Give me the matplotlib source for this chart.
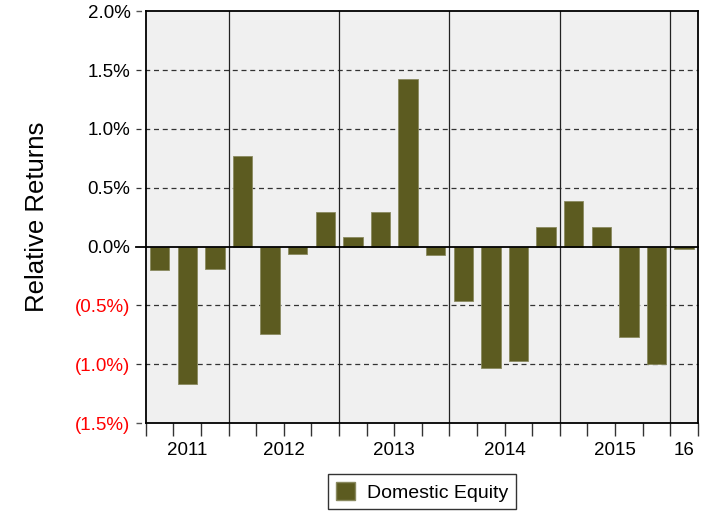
import numpy as np
import matplotlib
matplotlib.use('Agg')
import matplotlib.pyplot as plt
from matplotlib.patches import Patch

plt.rcParams['font.family'] = ['Liberation Sans', 'DejaVu Sans']

# quarterly relative returns, 2011 Q2 .. 2016 Q1 (in %)
quarters = ['2011Q2', '2011Q3', '2011Q4',
            '2012Q1', '2012Q2', '2012Q3', '2012Q4',
            '2013Q1', '2013Q2', '2013Q3', '2013Q4',
            '2014Q1', '2014Q2', '2014Q3', '2014Q4',
            '2015Q1', '2015Q2', '2015Q3', '2015Q4',
            '2016Q1']
returns = [-0.20, -1.17, -0.19,
           0.77, -0.74, -0.06, 0.29,
           0.085, 0.295, 1.42, -0.07,
           -0.46, -1.03, -0.97, 0.165,
           0.39, 0.165, -0.77, -1.00,
           -0.02]
year_labels = ['2011', '2012', '2013', '2014', '2015', '16']
yticks = [-1.5, -1.0, -0.5, 0.0, 0.5, 1.0, 1.5, 2.0]
series_name = 'Domestic Equity'

bar_color = '#5c5b20'

fig = plt.figure(figsize=(7.15, 5.11), dpi=100)
ax = fig.add_axes([0.204, 0.172, 0.772, 0.806])
ax.set_facecolor('#f0f0f0')

x = np.arange(len(quarters))
ax.bar(x, returns, width=0.7, color=bar_color, edgecolor='#8a8a60', linewidth=0.6, zorder=3)

ax.set_xlim(-0.5, len(quarters) - 0.5)
ax.set_ylim(-1.5, 2.0)

# horizontal gridlines, extended a bit left of the axis
ytr = ax.get_yaxis_transform()
for v in yticks:
    if v == 0.0:
        ax.plot([-0.018, 1], [v, v], color='black', lw=1.3, transform=ytr, clip_on=False, zorder=4)
    elif v in (2.0, -1.5):
        ax.plot([-0.018, 0], [v, v], color='#555555', lw=1, ls=(0, (4, 3)), transform=ytr, clip_on=False)
    else:
        ax.plot([-0.018, 1], [v, v], color='#333333', lw=0.9, ls=(0, (4, 3)), transform=ytr, clip_on=False, zorder=2)

# year separators
year_of = [q[:4] for q in quarters]
seps = [i - 0.5 for i in range(1, len(quarters)) if year_of[i] != year_of[i - 1]]
for s in seps:
    ax.axvline(s, color='#222222', lw=0.9, zorder=2)

# quarter ticks along the bottom
ax.set_xticks(np.arange(-0.5, len(quarters), 1.0))
ax.set_xticklabels([])
ax.tick_params(axis='x', direction='out', length=9, width=1, color='#333333')

# year labels centred in each year block
edges = [-0.5] + seps + [len(quarters) - 0.5]
for lab, a, b in zip(year_labels, edges[:-1], edges[1:]):
    ax.text((a + b) / 2, -0.045, lab, transform=ax.get_xaxis_transform(),
            ha='center', va='top', fontsize=13.5)

ax.set_yticks(yticks)
labels = []
for v in yticks:
    if v < 0:
        labels.append('(%.1f%%)' % abs(v))
    else:
        labels.append('%.1f%%' % v)
ax.set_yticklabels(labels, fontsize=13.5)
for t, v in zip(ax.get_yticklabels(), yticks):
    t.set_color('red' if v < 0 else 'black')
ax.tick_params(axis='y', length=0, pad=11)

for sp in ax.spines.values():
    sp.set_linewidth(1.3)
    sp.set_color('black')

ax.set_ylabel('Relative Returns', fontsize=18.5, labelpad=19)

leg = fig.legend(handles=[Patch(facecolor=bar_color, edgecolor='#8a8a60')], labels=[series_name],
                 loc='lower center', bbox_to_anchor=(0.59, -0.016), fontsize=14, frameon=True,
                 fancybox=False, edgecolor='black', handlelength=1.0, handleheight=1.1,
                 borderpad=0.4, handletextpad=0.6, borderaxespad=0.5)
leg.get_frame().set_linewidth(1)

fig.savefig('out.png', dpi=100)
